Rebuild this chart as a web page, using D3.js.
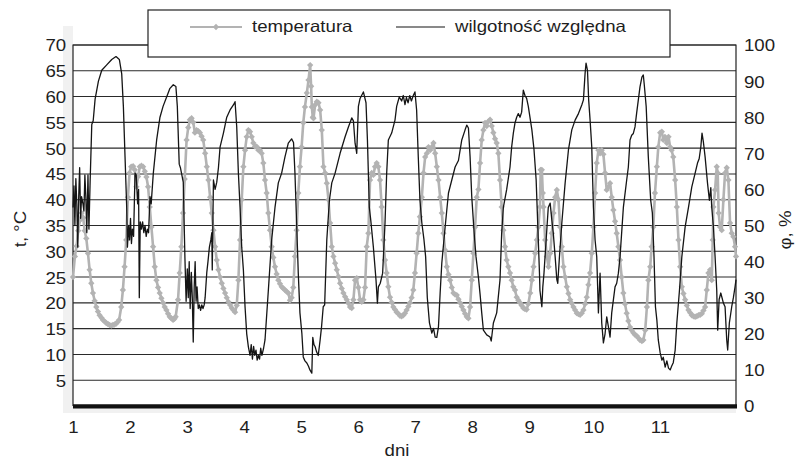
<!DOCTYPE html>
<html>
<head>
<meta charset="utf-8">
<script src="https://cdn.jsdelivr.net/npm/d3@7"></script>
<style>
  body { margin: 0; background: #fff; }
  svg text { font-family: "Liberation Sans", Arial, sans-serif; font-size: 16.5px; fill: #1e1e1e; }
</style>
</head>
<body>
<svg id="chart" width="796" height="464"></svg>
<script>
// x axis: position of each day label (hours from the start of the record)
const dayTicks = [0, 24, 48, 72, 96, 120, 144, 168, 192, 219, 247];
const dayLabels = ["1", "2", "3", "4", "5", "6", "7", "8", "9", "10", "11"];
const tempTicks = [5, 10, 15, 20, 25, 30, 35, 40, 45, 50, 55, 60, 65, 70];
const humTicks = [0, 10, 20, 30, 40, 50, 60, 70, 80, 90, 100];

// temperatura [hour, °C]
const temperatura = [
  [0,25],[0.8,29],[1.5,31],[2.2,34],[2.9,36],[3.6,37.4],[4.3,36.5],[4.9,34],[5.6,32.5],[6.3,29.6],[7,26.4],[7.7,23.8],[8.4,21.9],[9.1,20.4],[9.8,19.2],[10.5,18.3],[11.2,17.6],[12,17.1],[12.6,16.7],[13.3,16.4],[14,16.1],[14.7,15.9],[15.4,15.7],[16.1,15.6],[16.8,15.7],[17.5,15.8],[18.2,16],[18.8,16.3],[19.4,16.7],[20.3,19.2],[21,22.5],[21.7,27],[22.4,32.2],[23.1,40.5],[23.8,45.2],[24.5,46.4],[25.3,46.5],[26,45.8],[26.7,42.5],[27.4,44.5],[28.1,46.4],[28.8,46.6],[29.5,46.4],[30.2,45.5],[30.9,44.4],[31.6,42.5],[32.3,38.6],[33,34.7],[33.7,30.9],[34.4,27],[35.1,24.4],[35.8,23],[36.5,21.9],[37.2,20.9],[37.9,20],[38.6,19.2],[39.3,18.6],[40,17.9],[40.7,17.3],[41.4,17],[42.1,16.7],[42.7,16.9],[43.2,17.3],[44.2,20.6],[44.9,25.8],[45.6,30.9],[46.3,37.4],[47,44],[47.8,51.6],[48.5,54],[49.2,55.5],[49.9,55.8],[50.6,55],[51.3,53],[52,53.5],[52.7,53.3],[53.4,53],[54.1,52.3],[54.8,51.6],[55.6,49],[56.3,46.4],[57,43.8],[57.7,40.5],[58.4,37.4],[59.1,34.1],[59.8,30.9],[60.5,28.3],[61.2,26.4],[61.9,25],[62.6,23.8],[63.3,22.8],[64,21.9],[64.7,21],[65.4,20.2],[66.1,19.6],[66.8,19],[67.5,18.6],[68.2,18.2],[68.9,19.5],[69.6,24.4],[70.3,32.2],[71,40],[71.7,46.4],[72.4,49.6],[73.1,52.2],[73.8,53.5],[74.5,53.2],[75.2,52.2],[75.9,51],[76.6,50.3],[77.3,50.3],[78,49.6],[78.7,49.6],[79.4,49],[80.1,47.1],[80.8,43.8],[81.5,41.3],[82.2,37.4],[82.9,34.1],[83.6,30.9],[84.3,28.8],[85,27],[85.7,25.6],[86.4,24.4],[87.1,23.7],[87.8,23.1],[88.5,22.8],[89.2,22.5],[89.9,22.2],[90.6,21.9],[91.3,20.5],[92,21],[92.7,23],[93.4,29],[94.1,34.1],[94.8,41.3],[95.5,46.4],[96.2,50.2],[96.9,54.9],[97.6,58],[98.4,60.7],[99.1,63.2],[99.8,66.1],[100.2,62],[100.5,58],[100.9,56],[101.2,55.8],[101.9,58.4],[102.6,59],[103.3,58.8],[104,57.4],[104.7,53.5],[105.4,46.4],[106.1,45.2],[106.8,43.2],[107.5,40],[108.2,35.5],[108.9,30.9],[109.6,29],[110.3,27.7],[111,26.4],[111.7,25.1],[112.4,23.8],[113.1,22.8],[113.8,21.9],[114.5,21.2],[115.2,20.6],[115.9,19.9],[116.6,19.2],[117.3,19],[118,20.6],[118.7,24.4],[119.4,24.8],[120.1,23],[120.8,20.6],[121.5,20.2],[122.2,20.6],[122.9,23],[123.6,30.9],[124.3,33.5],[125,43.8],[125.7,45.2],[126.4,44.8],[127.1,46.4],[127.8,47.1],[128.5,46.4],[129.2,43.8],[129.9,38.6],[130.6,32.2],[131.3,28.3],[132,25.8],[132.7,23.1],[133.4,21.1],[134.1,20.1],[134.8,19.2],[135.5,18.7],[136.2,18.2],[136.9,17.9],[137.6,17.5],[138.3,17.4],[139,17.6],[139.7,18],[140.4,18.6],[141.1,19.3],[141.8,20],[142.5,21],[143.2,22.5],[143.9,25.8],[144.6,29.6],[145.3,33.5],[146,36.7],[146.8,40.5],[147.5,45.2],[148.2,48.3],[148.9,49],[149.6,50.2],[150.3,49.6],[151,50.2],[151.7,51],[152.4,49],[153.1,46.4],[153.8,43.8],[154.5,40.5],[155.2,37.4],[155.9,33.5],[156.6,30.2],[157.3,27],[158,25.5],[158.7,24.4],[159.4,23],[160.1,21.9],[160.8,21.6],[161.5,21.5],[162.2,20.7],[162.9,20],[163.6,19.3],[164.3,18.6],[165,17.9],[165.7,17.3],[166.4,17],[167.1,19.2],[167.8,24.4],[168.5,29.6],[169.2,34.7],[169.9,40.5],[170.6,42],[171.3,47.1],[172,51.6],[172.7,53.5],[173.4,54.9],[174.1,54.3],[174.8,55.2],[175.5,55.5],[176.2,54.3],[176.9,53],[177.6,51.8],[178.3,51],[179,49],[179.7,43.8],[180.4,38.6],[181.1,34.1],[181.8,30.9],[182.5,28.3],[183.2,27],[183.9,25.8],[184.6,24.4],[185.3,23.1],[186,22.5],[186.7,21.1],[187.4,20.5],[188.1,20],[188.8,19.5],[189.5,19],[190.2,18.8],[190.9,18.7],[191.6,19.8],[192.4,21.9],[193.1,24.4],[193.8,27],[194.5,29.6],[195.2,32.2],[195.8,34.7],[196.5,38.6],[196.8,45.8],[197.3,45.8],[197.7,41.3],[198,38.6],[198.7,32.2],[199.4,29],[200.1,27],[200.8,29.6],[201.5,33.5],[202.2,37.4],[202.9,40.5],[203.6,41.9],[204.3,40],[205,34.7],[205.7,30.9],[206.4,27],[207.1,25],[207.8,23.1],[208.5,21.8],[209.2,20.6],[209.9,19.9],[210.6,19.2],[211.3,18.6],[212,18],[212.7,17.8],[213.4,17.7],[214.1,18],[214.8,18.6],[215.5,19.8],[216.2,21.1],[216.9,23.5],[217.6,25.8],[218.3,29.6],[219,34.7],[219.7,41.3],[220.4,47.1],[221.1,49.6],[221.8,49],[222.5,49.6],[223.2,48.8],[223.9,45.2],[224.6,41.9],[225.3,42.5],[226,43.2],[226.7,40.5],[227.4,38],[228.1,35.8],[228.8,33.5],[229.5,30.9],[230.2,28.3],[230.9,25],[231.6,21.9],[232.3,19.8],[233,18],[233.7,16.5],[234.4,15.3],[235.1,14.7],[235.8,14.2],[236.5,13.8],[237.2,13.6],[237.9,13.2],[238.6,12.8],[239.4,12.6],[240,12.8],[240.8,14.7],[241.5,19.2],[242.1,24.4],[242.9,27],[243.5,30.9],[244.2,34.7],[244.9,41.3],[245.7,46.4],[246.3,50.2],[247.1,53],[247.8,53.2],[248.4,51.6],[249.1,52.2],[249.9,51],[250.6,52.2],[251.3,50.2],[251.9,49.6],[252.6,48.3],[253.4,43.8],[254.1,38.6],[254.8,32.2],[255.5,27],[256.2,23.1],[256.9,21.8],[257.6,20.6],[258.3,19.5],[259,18.6],[259.7,18.1],[260.4,17.6],[261.1,17.4],[261.8,17.3],[262.5,17.4],[263.2,17.6],[263.9,17.7],[264.6,17.9],[265.3,18.5],[266,19.2],[266.7,22.5],[267.4,25.8],[268.1,26.4],[268.8,24.4],[269.2,32.2],[269.5,38.6],[270.2,41.9],[270.9,46.4],[271.3,45.2],[271.7,37.4],[272.3,34.7],[273,34.1],[273.7,40],[274.4,45.2],[275.1,46.2],[275.8,43.8],[276.5,35.5],[277.2,33.5],[277.9,32.8],[278.6,30.9],[279,29]
];

// wilgotność względna [hour, %]
const wilgotnosc = [
  [0,55],[0.4,61],[0.8,50],[1.2,63],[1.6,56],[2,44],[2.4,58],[2.8,66],[3.2,52],[3.6,58],[4.2,56],[4.6,54],[5,64],[5.4,58],[5.8,48],[6.3,64],[6.7,49],
  [7.2,62],[7.9,78],[8.5,79],[9.3,85],[10.7,90],[12.1,93],[14.2,94.5],[16.3,96],[18.1,96.8],[19.5,96],[20.5,92],[21.2,83],[21.9,69],[22.6,55],[22.9,44],
  [23.4,50],[23.8,46],[24.2,52],[24.6,45],[25,49],[25.5,47],[26.1,64.5],[26.6,64],[27.2,56],[27.6,60],[27.9,30],[28.3,51],[28.8,49],[29.3,51],[29.8,48],[30.3,50],[30.8,47],[31.3,49],[31.8,48],[32.4,58],[32.9,56],[33.8,64.5],[35.2,73.7],[36.6,80],[37.9,83],[39.4,85.6],[40.8,88],[42.2,89],[43.3,88.5],[43.9,83],[44.7,67],
  [45.2,66],[46.4,62],[47.1,41],[47.6,29],[48.1,38],[48.5,30],[48.9,40],[49.3,27],[49.8,37],[50.2,30],[50.6,17.7],[51,33],[51.4,40],[51.8,29],[52.2,33],[52.7,27],[53.2,28],[53.7,26.5],[54.2,28],[54.7,27],[55.2,28],[55.6,30],[56.3,37],[56.8,40],[57.4,44],[58,46],[58.4,48],[58.6,37.7],[59.1,62.6],[59.8,60],[60.5,62],[61.2,66],[61.9,71.8],[63.3,75.6],[64.7,80],[66.1,82],[67.5,83.4],[68.2,84.3],[68.9,77.3],[69.6,64.5],[70.3,55],[71,44],[71.7,37.7],[72.4,27.5],[73.1,20],[73.8,16.4],
  [74.5,14],[75,17],[75.5,13],[76,16.5],[76.5,14],[77,15.5],[77.5,12.7],[78,14],[78.5,13],[79,16],[79.5,14],[80.2,16],[80.8,18.3],[82.2,32],[83.6,46],[85,55],[86.4,61.8],[87.8,64.5],[89.2,69],[90.6,72.8],[92,74],[92.8,73],
  [93.4,64.5],[94.1,50.7],[94.8,36.8],[95.5,25.8],[96.3,20.2],[96.9,13.6],[97.6,12.5],[98.4,11.9],[99.1,11],[99.7,10],[100.5,9.1],[100.9,19],[101.4,17],[101.9,16.4],[102.5,15],[103.2,14],[104,18.3],[104.6,22],[105.3,27.5],[105.9,28],[106.8,46],[107.9,57],[108.9,61.8],[110.3,64.5],[112.4,70],[114.5,74.6],[115.9,77.3],[117.3,79.8],[118,79],[118.7,72.8],[119.4,70],[120.1,83],[120.8,85.2],[122.2,87],[123.3,84],[123.9,73.7],[124.7,55],[125.3,51.5],[126.4,44],[127.5,35],[128.1,28.5],[128.5,33],[129.3,34],[130.3,36.8],[131.3,50.7],[132,64.5],[132.7,73.7],[134.1,75.6],[135.5,79.2],[136.2,83],[137.3,85.6],[138.3,84.5],[139,86],[139.7,83.5],[140.3,85.5],[141,84],[141.7,86],[142.4,84.5],[143.2,86],[143.9,87],[144.6,82],[145.3,69],[146,57],[146.8,50.7],[147.7,46],[148.4,41.3],[149.1,30],[150,23],[151,20.2],[151.7,21.5],[152.4,19.1],[153.1,19],[153.8,22],[154.5,31.3],[155.2,39.6],[156.6,49.6],[158,59],[159.4,62.6],[160.8,66.2],[162.2,68],[163.6,73.7],[165,76.5],[165.7,77.8],[166.4,77],[167.1,69],[167.8,58],[168.8,48],[169.6,41.3],[170.6,35.7],[171.3,31],[172,25.8],[172.7,21],[174.1,19.7],[175.5,19.1],[176,18],[176.9,23],[178.3,25.8],[179.7,35],[180.4,48],[181.1,55],[182.5,60],[183.9,66.2],[184.6,71.8],[185.3,75.6],[186,78.4],[186.7,80],[187.4,81],[188.1,80],[188.8,81.4],[189.5,87.5],[190.2,86],[190.9,85.2],[191.6,83],[193.1,76.5],[194,71],[194.9,62.6],[195.4,53.5],[195.8,46],[196.3,36.8],[196.5,32],[197.3,27.5],[197.7,33],[198.2,36.8],[199.1,46],[200,55],[200.8,56.2],[201.5,51.5],[202.1,48],[202.9,41.3],[203.6,35],[204,34],[204.7,41.3],[205.7,50.7],[207.1,61.8],[208.5,71],[209.9,76.5],[211.3,79.2],[212.7,81],[214.1,83.4],[214.8,84.8],[215.5,92.2],[215.9,95],[216.5,93],[217,84.8],[217.6,79.2],[218.3,71.8],[219,55],[219.7,46],[220.4,41.3],[221.1,25.8],[221.8,36.8],[222.5,23],[223.2,17.5],[223.9,20],[224.6,24.7],[225.3,22],[226,19.1],[226.7,25.8],[227.4,29.4],[228.1,33],[228.8,34],[229.5,36.8],[230.2,41.3],[231.6,55],[233,62.6],[233.7,66.2],[234.4,73.7],[235.1,75],[235.8,75.5],[236.5,77.3],[237.2,81.2],[237.9,84.8],[238.6,88.4],[239.4,91.1],[240,91.7],[240.4,89],[241.2,83],[242.1,69],[243.1,57],[243.8,53.5],[244.5,41.3],[245.1,27.5],[245.7,23.8],[246.3,18.3],[247.1,14.7],[247.8,12.7],[248.4,13.5],[249.2,10.8],[249.9,12.5],[250.6,10.5],[251.3,10],[251.9,11],[252.6,12],[253.4,15.5],[254.1,23],[255.2,32],[256.2,41.3],[257.6,49.6],[259,55],[260.4,60.7],[261.8,64.5],[262.8,67.3],[263.5,68.5],[264.2,71.8],[264.7,75.6],[265.3,73],[266,69],[267,61.8],[267.8,57],[268.4,60.5],[268.8,55],[269.5,49.6],[270.2,41.3],[270.9,32],[271.3,21],[271.9,29.5],[272.6,31.3],[273.7,28.5],[274.4,27.5],[275.1,18.3],[275.5,15.5],[276.2,23],[277.2,27.5],[277.9,30],[278.6,33],[279,35]
];

const svg = d3.select("#chart");
const plotLeft = 73, plotRight = 736, plotTop = 45, plotBottom = 406;
const stretch = "scale(1.13,1)"; // text in the picture is a bit wide

const x = d3.scaleLinear().domain([0, 279]).range([plotLeft, plotRight]);
const yT = d3.scaleLinear().domain([0, 70]).range([plotBottom, plotTop]);
const yH = d3.scaleLinear().domain([0, 100]).range([plotBottom, plotTop]);

const tempColor = "#b3b3b3";
const humColor = "#151515";

// faint 3d wall behind the plot
svg.append("rect").attr("x", 63).attr("y", 26).attr("width", 10).attr("height", 387).attr("fill", "#f1f1f1");
svg.append("rect").attr("x", 63).attr("y", plotBottom).attr("width", plotRight - 63).attr("height", 7).attr("fill", "#f1f1f1");
svg.append("rect").attr("x", plotLeft).attr("y", plotTop).attr("width", plotRight - plotLeft).attr("height", plotBottom - plotTop).attr("fill", "#fff");

// gridlines every 5 °C
svg.append("g").selectAll("line")
  .data(tempTicks)
  .enter().append("line")
  .attr("x1", plotLeft).attr("x2", plotRight)
  .attr("y1", d => yT(d)).attr("y2", d => yT(d))
  .attr("stroke", "#2a2a2a").attr("stroke-width", 1.1);

// plot frame
svg.append("path")
  .attr("d", `M${plotLeft},${plotBottom}V${plotTop}H${plotRight}V${plotBottom}`)
  .attr("fill", "none").attr("stroke", "#222").attr("stroke-width", 1.2);

// temperature series: grey line with diamond markers
svg.append("path")
  .datum(temperatura)
  .attr("fill", "none")
  .attr("stroke", tempColor)
  .attr("stroke-width", 2.6)
  .attr("stroke-linejoin", "round")
  .attr("d", d3.line().x(d => x(d[0])).y(d => yT(d[1])));

const diamond = d3.symbol(d3.symbolSquare, 20);
svg.append("g").selectAll("path")
  .data(temperatura)
  .enter().append("path")
  .attr("d", diamond)
  .attr("fill", tempColor)
  .attr("transform", d => `translate(${x(d[0])},${yT(d[1])}) rotate(45)`);

// relative humidity series
svg.append("path")
  .datum(wilgotnosc)
  .attr("fill", "none")
  .attr("stroke", humColor)
  .attr("stroke-width", 1.3)
  .attr("stroke-linejoin", "round")
  .attr("d", d3.line().x(d => x(d[0])).y(d => yH(d[1])));

// thick floor line
svg.append("line")
  .attr("x1", plotLeft).attr("x2", plotRight + 1)
  .attr("y1", plotBottom + 0.3).attr("y2", plotBottom + 0.3)
  .attr("stroke", "#111").attr("stroke-width", 4.2);

// axes
const axL = svg.append("g").attr("transform", `translate(${plotLeft},0)`)
  .call(d3.axisLeft(yT).tickValues(tempTicks).tickSize(0).tickPadding(6));
const axR = svg.append("g").attr("transform", `translate(${plotRight},0)`)
  .call(d3.axisRight(yH).tickValues(humTicks).tickSize(0).tickPadding(7));
const axB = svg.append("g").attr("transform", `translate(0,${plotBottom})`)
  .call(d3.axisBottom(x).tickValues(dayTicks).tickFormat((d, i) => dayLabels[i]).tickSize(0).tickPadding(15));

[axL, axR, axB].forEach(ax => {
  ax.select(".domain").remove();
  ax.selectAll("text")
    .attr("fill", "#1e1e1e")
    .style("font-size", "16.5px")
    .style("font-family", '"Liberation Sans", Arial, sans-serif')
    .attr("transform", stretch);
});
axL.selectAll("text").attr("dy", "0.36em");
axR.selectAll("text").attr("dy", "0.36em");

// axis titles
svg.append("text").attr("transform", `translate(26,229) rotate(-90) ${stretch}`)
  .attr("text-anchor", "middle").text("t, °C");
svg.append("text").attr("transform", `translate(791,230) rotate(-90) ${stretch}`)
  .attr("text-anchor", "middle").text("φ, %");
svg.append("text").attr("transform", `translate(397,456) ${stretch}`)
  .attr("text-anchor", "middle").text("dni");

// legend
const lg = svg.append("g");
lg.append("rect").attr("x", 148).attr("y", 10).attr("width", 522).attr("height", 47)
  .attr("fill", "#fff").attr("stroke", "#222").attr("stroke-width", 1.2);
lg.append("line").attr("x1", 190).attr("x2", 242).attr("y1", 27).attr("y2", 27)
  .attr("stroke", tempColor).attr("stroke-width", 2);
lg.append("path").attr("d", diamond).attr("fill", tempColor)
  .attr("transform", "translate(216,27) rotate(45)");
lg.append("text").attr("transform", `translate(252,32) ${stretch}`).text("temperatura");
lg.append("line").attr("x1", 396).attr("x2", 445).attr("y1", 27).attr("y2", 27)
  .attr("stroke", humColor).attr("stroke-width", 1.2);
lg.append("text").attr("transform", `translate(455,32) ${stretch}`).text("wilgotność względna");
</script>
</body>
</html>
